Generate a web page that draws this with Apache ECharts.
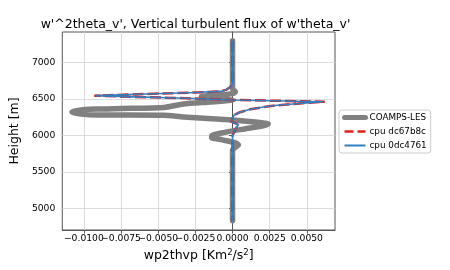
<!DOCTYPE html>
<html>
<head>
<meta charset="utf-8">
<script src="https://cdn.jsdelivr.net/npm/echarts@6/dist/echarts.min.js"></script>
<style>html,body{margin:0;padding:0;background:#fff}#c{width:450px;height:270px}</style>
</head>
<body>
<div id="c"></div>
<script>
// ---- data ----
const xTicks = [-0.01, -0.0075, -0.005, -0.0025, 0, 0.0025, 0.005];
const yTicks = [5000, 5500, 6000, 6500, 7000];
const xMin = -0.01145, xMax = 0.00689;

const heightsLes = [7300, 6640, 6600, 6575, 6555, 6535, 6515, 6500, 6487, 6460, 6433, 6385, 6370, 6362, 6345, 6320, 6295, 6282, 6278, 6254, 6213, 6185, 6157, 6130, 6090, 6040, 5995, 5970, 5940, 5900, 5870, 5840, 5800, 4830];
const coampsLes  = [0, 0, 0.0002, 0.0000, -0.0012, -0.0021, -0.0018, -0.0006, 0.0000, -0.0015, -0.0033, -0.0046, -0.0075, -0.0092, -0.0104, -0.0108, -0.0102, -0.0090, -0.0046, -0.0033, 0.0000, 0.0015, 0.0024, 0.0020, 0.0008, -0.0006, -0.0014, -0.0014, -0.0007, 0.0002, 0.0004, 0.0002, 0, 0];

const heightsCpu = [7300, 6700, 6660, 6630, 6605, 6590, 6570, 6547, 6530, 6511, 6488, 6464, 6440, 6415, 6390, 6360, 6320, 6280, 6230, 6190, 6150, 6090, 6000, 5900, 5500, 5000, 4830];
const cpuDc67b8c = [0, 0, -0.0002, -0.0004, -0.0008, -0.0025, -0.0058, -0.0093, -0.0066, -0.0031, 0.0000, 0.0062, 0.0045, 0.0030, 0.0021, 0.0012, 0.0005, 0.0001, 0.0000, -0.0001, 0.0004, 0.0002, 0.0000, 0, 0, 0, 0];
const cpu0dc4761 = [0, 0, -0.0002, -0.0004, -0.0008, -0.0025, -0.0058, -0.0092, -0.0066, -0.0031, 0.0000, 0.0061, 0.0045, 0.0030, 0.0021, 0.0012, 0.0005, 0.0001, 0.0000, -0.0001, 0.0004, 0.0002, 0.0000, 0, 0, 0, 0];

function pairs(xs, hs) { return xs.map((v, i) => [v, hs[i]]); }

const chart = echarts.init(document.getElementById('c'), null, {renderer: 'canvas'});
const axisColor = '#555';
const font = 'DejaVu Sans';
chart.setOption({
  animation: false,
  textStyle: {fontFamily: font},
  title: {
    text: "w'^2theta_v', Vertical turbulent flux of w'theta_v'",
    left: 195.5, top: 18, textAlign: 'center',
    padding: 0,
    textStyle: {fontFamily: font, fontSize: 12.5, fontWeight: 'normal', color: '#000'}
  },
  grid: {left: 56, right: 115, top: 32, bottom: 40, show: true, borderColor: axisColor, borderWidth: 1, containLabel: false},
  legend: {
    orient: 'vertical', left: 339, top: 110,
    padding: [3, 4, 3, 3],
    itemWidth: 21, itemHeight: 8, itemGap: 5,
    borderColor: '#ccc', borderWidth: 1, borderRadius: 3,
    backgroundColor: '#fff',
    itemStyle: {opacity: 0},
    textStyle: {fontFamily: font, fontSize: 8.8, color: '#000', padding: [0, 0, 0, -1]},
    data: [
      {name: 'COAMPS-LES', lineStyle: {width: 5}},
      {name: 'cpu dc67b8c', lineStyle: {width: 2.5, type: [9, 4]}},
      {name: 'cpu 0dc4761', lineStyle: {width: 2}}
    ]
  },
  xAxis: {
    type: 'value', min: xMin, max: xMax,
    name: 'wp2thvp [Km{sup|2}/s{sup|2}]', nameLocation: 'middle', nameGap: 18,
    nameTextStyle: {fontFamily: font, fontSize: 12.5, color: '#000',
      rich: {sup: {fontSize: 8.5, verticalAlign: 'top', padding: [0, 0, 7, 0], fontFamily: font, color: '#000'}}},
    axisLine: {show: true, lineStyle: {color: axisColor}},
    axisTick: {show: true, length: 3.5, customValues: xTicks, lineStyle: {color: axisColor}},
    axisLabel: {customValues: [xMin].concat(xTicks, [xMax]), interval: 0, hideOverlap: false,
      fontFamily: font, fontSize: 9.2, color: '#000', margin: 4,
      formatter: v => (xTicks.indexOf(v) < 0 ? '' : v.toFixed(4).replace('-', '\u2212'))},
    splitLine: {show: true, lineStyle: {color: '#d4d4d4', width: 0.8}}
  },
  yAxis: {
    type: 'value', min: 4702, max: 7421,
    name: 'Height [m]', nameLocation: 'middle', nameGap: 36, nameRotate: 90,
    nameTextStyle: {fontFamily: font, fontSize: 12.5, color: '#000'},
    axisLine: {show: true, lineStyle: {color: axisColor}},
    axisTick: {show: true, length: 3.5, customValues: yTicks, lineStyle: {color: axisColor}},
    axisLabel: {customValues: yTicks, fontFamily: font, fontSize: 9.2, color: '#000', margin: 7,
      formatter: v => String(v)},
    splitLine: {show: true, lineStyle: {color: '#d4d4d4', width: 0.8}}
  },
  series: [
    {name: 'COAMPS-LES', type: 'line', symbol: 'none', smooth: 0.2, data: pairs(coampsLes, heightsLes),
      lineStyle: {color: '#808080', width: 5.5, cap: 'round', join: 'round'}, itemStyle: {color: '#808080'}, z: 2},
    {name: 'cpu dc67b8c', type: 'line', symbol: 'none', data: pairs(cpuDc67b8c, heightsCpu),
      lineStyle: {color: '#e0201e', width: 2.5, type: [11, 4]}, itemStyle: {color: '#e0201e'}, z: 3},
    {name: 'cpu 0dc4761', type: 'line', symbol: 'none', data: pairs(cpu0dc4761, heightsCpu),
      lineStyle: {color: '#2f7fc1', width: 1.6}, itemStyle: {color: '#2f7fc1'}, z: 4}
  ]
});
</script>
</body>
</html>
